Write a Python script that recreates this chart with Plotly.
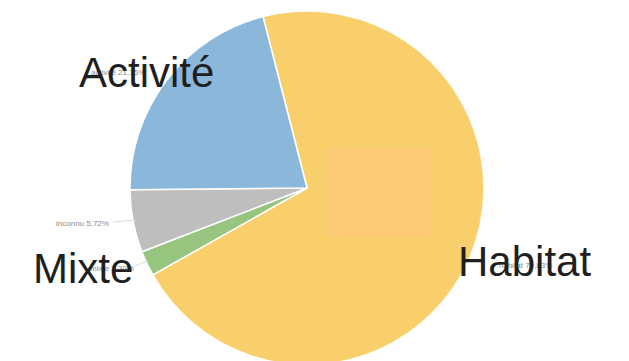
import plotly.graph_objects as go

# Data
categories = ["habitat", "mixte", "inconnu", "activité"]
big_labels = ["Habitat", "Mixte", "", "Activité"]
values = [70.83, 2.30, 5.72, 21.15]
pct_labels = ["70,83%", "2,30%", "5,72%", "21,15%"]
colors = ["#F9CF6B", "#97C47E", "#BEBEBE", "#8BB8DA"]

W, H = 629, 370
cx, cy, r = 307, 188, 177

def px(x):
    return x / W

def py(y):
    return (H - y) / H

fig = go.Figure()
fig.add_trace(go.Pie(
    labels=categories,
    values=values,
    sort=False,
    direction="clockwise",
    rotation=-14.4,
    marker=dict(colors=colors, line=dict(color="white", width=1.5)),
    textinfo="none",
    hoverinfo="label+percent",
    showlegend=False,
    domain=dict(x=[px(cx - r), px(cx + r)], y=[py(cy + r), py(cy - r)]),
))

# small labels positions (pixel centers)
small_pos = {
    "habitat": (525, 265),
    "mixte": (112, 268),
    "inconnu": (82, 223),
    "activité": (118, 72),
}
annotations = []
for cat, pl in zip(categories, pct_labels):
    x, y = small_pos[cat]
    annotations.append(dict(
        x=px(x), y=py(y), xref="paper", yref="paper",
        xanchor="center", yanchor="middle",
        text=f"{cat} {pl}", showarrow=False,
        font=dict(family="Liberation Sans, Arial", size=8, color="#8a8a8a"),
    ))

big_pos = {
    "Activité": (146, 72),
    "Mixte": (83, 268),
    "Habitat": (524, 261),
}
for lab in big_labels:
    if not lab:
        continue
    x, y = big_pos[lab]
    annotations.append(dict(
        x=px(x), y=py(y), xref="paper", yref="paper",
        xanchor="center", yanchor="middle",
        text=lab, showarrow=False,
        font=dict(family="Liberation Sans, Arial", size=42, color="#1f1f1f"),
    ))

shapes = [
    # leader lines
    dict(type="line", xref="paper", yref="paper",
         x0=px(113), y0=py(222), x1=px(136), y1=py(220),
         line=dict(color="#dcdcdc", width=1)),
    dict(type="line", xref="paper", yref="paper",
         x0=px(134), y0=py(266), x1=px(148), y1=py(261),
         line=dict(color="#dcdcdc", width=1)),
    # translucent highlight box
    dict(type="rect", xref="paper", yref="paper",
         x0=px(327), y0=py(237), x1=px(432), y1=py(148),
         fillcolor="rgba(255,196,130,0.45)", line=dict(width=0), layer="above"),
]

fig.update_layout(
    width=W, height=H,
    margin=dict(l=0, r=0, t=0, b=0),
    paper_bgcolor="white",
    plot_bgcolor="white",
    annotations=annotations,
    shapes=shapes,
)

fig.write_html(
    "out.html",
    config={"displayModeBar": False},
    post_script="document.body.style.margin='0';document.body.style.overflow='hidden';",
)
